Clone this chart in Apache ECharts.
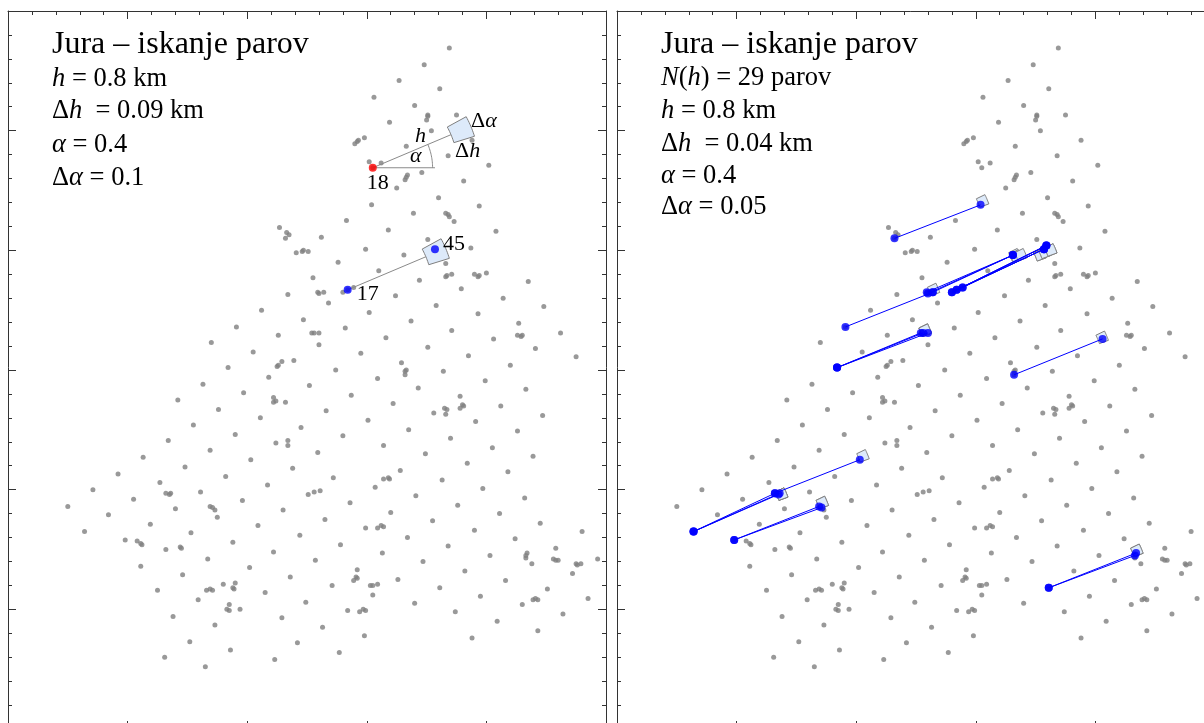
<!DOCTYPE html>
<html><head><meta charset="utf-8">
<script src="https://cdn.jsdelivr.net/npm/echarts@6/dist/echarts.min.js"></script>
<style>html,body{margin:0;padding:0;background:#fff;}#c{width:1204px;height:723px;}</style>
</head><body><div id="c"></div>
<script>
// Jura sample locations (km)
const sampleX = [
3.69,3.48,3.27,3.61,3.06,3.40,3.51,3.51,3.50,3.19,
3.75,3.54,3.88,2.90,2.92,2.93,2.98,3.33,3.68,4.02,
3.02,3.12,3.05,3.46,3.34,3.33,3.32,3.81,3.25,3.60,
3.04,3.94,3.66,3.68,3.69,3.39,3.73,2.83,3.18,4.08,
2.62,2.99,3.51,3.57,3.59,3.87,2.27,2.33,2.35,2.32,
2.41,2.46,2.47,2.51,2.34,2.12,2.47,1.91,2.26,1.70,
2.05,2.39,2.25,2.26,2.29,1.84,2.18,2.52,1.63,1.97,
1.42,2.22,2.22,2.24,2.32,1.76,2.11,1.55,2.45,1.90,
1.34,2.24,2.34,2.34,1.69,1.13,2.03,1.48,2.38,
0.92,1.82,1.27,2.17,0.71,0.50,1.32,1.35,1.36,1.61,
1.05,0.84,1.40,1.69,1.71,1.73,1.96,2.51,1.75,2.30,
1.19,0.64,1.53,2.09,2.44,0.98,1.08,1.11,1.12,1.32,
1.44,1.45,1.88,2.22,1.67,1.11,2.02,1.46,2.36,1.80,
1.90,1.88,1.89,1.25,1.66,1.69,1.71,2.15,1.59,2.49,
1.85,1.83,1.85,1.94,1.38,2.29,1.73,1.52,2.42,1.86,
1.31,2.23,1.65,3.31,3.66,2.76,3.10,3.66,3.67,3.71,
3.90,3.93,3.94,4.00,4.35,2.55,3.44,2.84,2.89,2.80,
2.59,2.60,2.64,2.68,3.24,3.79,4.14,3.58,4.48,3.02,
3.93,3.37,4.27,2.54,2.56,2.60,2.82,3.71,4.62,4.26,
4.29,4.30,3.16,4.06,2.60,3.51,4.41,2.95,3.85,4.75,
4.20,3.29,3.33,3.32,3.32,2.74,3.64,3.09,3.99,3.43,
4.33,2.87,3.78,3.22,3.80,3.81,3.78,4.12,2.66,3.56,
3.65,3.67,3.66,4.47,3.01,3.91,3.35,4.26,2.80,3.70,
3.14,4.05,2.59,3.49,4.39,3.84,3.28,4.18,2.72,3.14,
3.18,3.19,3.63,3.07,3.97,2.56,2.61,4.32,3.41,2.86,
3.76,3.20,4.11,4.45,2.65,3.55,2.99,3.09,3.12,3.14,
3.90,4.80,3.34,4.24,2.78,3.68,4.58,3.13,4.03,4.34,
4.33,4.33,4.56,4.58,4.60,4.93,2.57,3.47,4.38,4.75,
4.76,4.79,2.92,3.82,4.72,2.91,2.92,2.89,3.26,4.16,
2.71,3.03,3.05,3.09,3.61,4.51,3.05,3.95,4.85,3.40,
4.30,4.39,4.41,4.43,2.84,2.94,2.97,2.99,3.74,4.64,
2.63,4.09,4.43,2.98,3.88,2.77
];
const sampleY = [
5.69,5.55,5.42,5.35,5.28,5.21,5.13,5.12,5.09,5.07,
5.13,5.00,4.92,4.89,4.91,4.92,4.94,4.87,4.79,4.71,
4.74,4.73,4.69,4.65,4.63,4.61,4.59,4.58,4.52,4.44,
4.38,4.37,4.31,4.30,4.28,4.31,4.24,4.25,4.17,4.16,
4.11,4.01,4.09,4.01,4.04,4.02,4.19,4.15,4.13,4.10,
3.98,3.99,4.00,3.99,3.63,3.50,3.42,3.36,3.29,3.23,
3.15,3.08,3.03,3.04,3.07,3.02,2.94,2.87,2.88,2.81,
2.75,2.77,2.73,2.74,2.73,2.67,2.60,2.54,2.52,2.46,
2.41,2.39,2.41,2.37,2.33,2.27,2.25,2.19,2.18,
2.13,2.11,2.06,2.04,2.00,1.86,1.97,1.96,1.97,1.98,
1.92,1.79,1.84,1.86,1.85,1.83,1.91,1.96,1.77,1.83,
1.71,1.65,1.64,1.70,1.62,1.58,1.57,1.55,1.54,1.50,
1.52,1.51,1.56,1.48,1.42,1.36,1.35,1.29,1.27,1.21,
1.22,1.18,1.17,1.16,1.16,1.17,1.16,1.14,1.08,1.06,
1.04,1.00,0.99,1.00,0.94,0.93,0.87,0.73,0.72,0.66,
0.60,0.58,0.52,3.96,3.89,3.90,3.83,3.78,3.79,3.80,
3.80,3.78,3.79,3.81,3.74,3.77,3.75,3.67,3.69,3.65,
3.65,3.64,3.65,3.56,3.62,3.68,3.60,3.54,3.53,3.48,
3.47,3.41,3.39,3.31,3.31,3.31,3.35,3.33,3.31,3.29,
3.28,3.29,3.27,3.26,3.21,3.19,3.18,3.14,3.12,3.11,
3.04,3.06,3.00,2.99,2.96,3.00,2.99,2.93,2.91,2.85,
2.84,2.79,2.78,2.72,2.71,2.70,2.68,2.70,2.66,2.64,
2.68,2.67,2.63,2.62,2.58,2.57,2.50,2.49,2.45,2.43,
2.37,2.35,2.31,2.30,2.28,2.22,2.16,2.15,2.10,2.09,
2.10,2.09,2.08,2.02,2.01,1.98,1.99,1.93,1.95,1.89,
1.87,1.81,1.80,1.72,1.75,1.74,1.68,1.68,1.70,1.69,
1.66,1.65,1.60,1.59,1.54,1.53,1.51,1.47,1.45,1.47,
1.45,1.43,1.42,1.41,1.41,1.42,1.41,1.40,1.38,1.38,
1.37,1.38,1.33,1.32,1.30,1.27,1.26,1.24,1.25,1.24,
1.20,1.20,1.20,1.21,1.18,1.17,1.12,1.11,1.09,1.05,
1.04,1.08,1.09,1.08,0.99,0.98,1.00,0.99,0.98,0.96,
0.85,0.90,0.82,0.78,0.76,0.64
];

// search parameters
const lagH = 0.8, lagAlpha = 0.4;
const leftDh = 0.09, leftDa = 0.1;
const rightDh = 0.04, rightDa = 0.05;

// left panel: example tails / head
const exTailX = [3.05, 2.84];
const exTailY = [4.69, 3.67];
const exTailLabel = ['18', '17'];
const exHeadX = [3.57];
const exHeadY = [4.01];
const exHeadLabel = ['45'];

// right panel: found pairs (tail -> head)
const pairTailX = [2.32,1.91,2.59,2.60,2.64,2.80,2.80,2.84,2.84,2.89,2.89,1.84,1.84,1.84,3.32,3.61,3.61,0.64,0.64,0.64,1.32,0.98,0.98];
const pairTailY = [4.10,3.36,3.65,3.64,3.65,3.65,3.65,3.67,3.67,3.69,3.69,3.02,3.02,3.02,2.96,1.18,1.18,1.65,1.65,1.65,1.97,1.58,1.58];
const pairHeadX = [3.04,2.64,3.31,3.31,3.31,3.57,3.59,3.57,3.59,3.57,3.59,2.54,2.56,2.60,4.06,4.34,4.33,1.32,1.35,1.36,2.03,1.69,1.71];
const pairHeadY = [4.38,3.65,3.96,3.96,3.96,4.01,4.04,4.01,4.04,4.01,4.04,3.31,3.31,3.31,3.26,1.47,1.45,1.97,1.96,1.97,2.25,1.86,1.85];

const points = sampleX.map((x, i) => [x, sampleY[i]]);
const FONT = '"Liberation Serif", "Times New Roman", serif';

function sectorRender(dh, da) {
  return function (params, api) {
    const x0 = api.value(0), y0 = api.value(1);
    const pts = [];
    const n = 10;
    for (let i = 0; i <= n; i++) {
      const a = lagAlpha - da + 2 * da * i / n;
      pts.push(api.coord([x0 + (lagH + dh) * Math.cos(a), y0 + (lagH + dh) * Math.sin(a)]));
    }
    for (let i = n; i >= 0; i--) {
      const a = lagAlpha - da + 2 * da * i / n;
      pts.push(api.coord([x0 + (lagH - dh) * Math.cos(a), y0 + (lagH - dh) * Math.sin(a)]));
    }
    return { type: 'polygon', shape: { points: pts }, style: { fill: '#ddeafa', stroke: '#7f7f7f', lineWidth: 1 } };
  };
}

function axisDef(gridIndex, pos, max) {
  return {
    type: 'value', gridIndex: gridIndex, position: pos, min: 0, max: max, interval: 1,
    axisLine: { show: true, onZero: false, lineStyle: { color: '#333', width: 1 } },
    axisTick: { show: true, inside: true, length: 8, lineStyle: { color: '#333', width: 1 } },
    minorTick: { show: true, splitNumber: 5, length: 4, lineStyle: { color: '#333', width: 1 } },
    axisLabel: { show: false }, splitLine: { show: false }, minorSplitLine: { show: false }
  };
}

function txt(x, baseline, fs, text) {
  return {
    type: 'text', x: x, y: baseline - 0.3375 * fs, silent: true, z: 100,
    style: {
      text: text, fontSize: fs, fontFamily: FONT, fill: '#000', align: 'left', verticalAlign: 'middle',
      rich: { i: { fontSize: fs, fontFamily: FONT, fontStyle: 'italic', fill: '#000' } }
    }
  };
}

const chart = echarts.init(document.getElementById('c'), null, { renderer: 'canvas', width: 1204, height: 723 });

const option = {
  animation: false,
  backgroundColor: '#fff',
  grid: [
    { left: 8, top: 11, width: 598, height: 718, containLabel: false, outerBoundsMode: 'none' },
    { left: 617, top: 11, width: 598, height: 718, containLabel: false, outerBoundsMode: 'none' }
  ],
  xAxis: [axisDef(0, 'bottom', 5), axisDef(0, 'top', 5), axisDef(1, 'bottom', 5), axisDef(1, 'top', 5)],
  yAxis: [axisDef(0, 'left', 6), axisDef(0, 'right', 6), axisDef(1, 'left', 6), axisDef(1, 'right', 6)],
  series: [
    // left panel
    { type: 'scatter', xAxisIndex: 0, yAxisIndex: 0, data: points, symbolSize: 5, itemStyle: { color: '#808080' }, silent: true, z: 2 },
    { type: 'custom', xAxisIndex: 0, yAxisIndex: 0, silent: true, z: 4,
      data: exTailX.map((x, i) => [x, exTailY[i]]),
      renderItem: function (params, api) {
        const x0 = api.value(0), y0 = api.value(1);
        const r = lagH - leftDh;
        return { type: 'polyline', shape: { points: [api.coord([x0, y0]), api.coord([x0 + r * Math.cos(lagAlpha), y0 + r * Math.sin(lagAlpha)])] },
          style: { stroke: '#8a8a8a', lineWidth: 1, fill: 'none' } };
      } },
    { type: 'custom', xAxisIndex: 0, yAxisIndex: 0, silent: true, z: 4,
      data: [[exTailX[0], exTailY[0]]],
      renderItem: function (params, api) {
        const x0 = api.value(0), y0 = api.value(1);
        const arcPts = [];
        for (let i = 0; i <= 16; i++) {
          const a = lagAlpha * i / 16;
          arcPts.push(api.coord([x0 + 0.5 * Math.cos(a), y0 + 0.5 * Math.sin(a)]));
        }
        return { type: 'group', children: [
          { type: 'polyline', shape: { points: [api.coord([x0, y0]), api.coord([x0 + 0.52, y0])] }, style: { stroke: '#8a8a8a', lineWidth: 1, fill: 'none' } },
          { type: 'polyline', shape: { points: arcPts }, style: { stroke: '#8a8a8a', lineWidth: 1, fill: 'none' } }
        ] };
      } },
    { type: 'custom', xAxisIndex: 0, yAxisIndex: 0, silent: true, z: 5,
      data: exTailX.map((x, i) => [x, exTailY[i]]), renderItem: sectorRender(leftDh, leftDa) },
    { type: 'scatter', xAxisIndex: 0, yAxisIndex: 0, silent: true, z: 6, symbolSize: 8,
      data: [[exTailX[0], exTailY[0]]], itemStyle: { color: '#ff0000' } },
    { type: 'scatter', xAxisIndex: 0, yAxisIndex: 0, silent: true, z: 6, symbolSize: 8,
      data: [[exTailX[1], exTailY[1]]].concat(exHeadX.map((x, i) => [x, exHeadY[i]])), itemStyle: { color: '#0000ff' } },
    // right panel
    { type: 'scatter', xAxisIndex: 2, yAxisIndex: 2, data: points, symbolSize: 5, itemStyle: { color: '#808080' }, silent: true, z: 2 },
    { type: 'custom', xAxisIndex: 2, yAxisIndex: 2, silent: true, z: 3,
      data: pairTailX.map((x, i) => [x, pairTailY[i]]), renderItem: sectorRender(rightDh, rightDa) },
    { type: 'custom', xAxisIndex: 2, yAxisIndex: 2, silent: true, z: 4,
      data: pairTailX.map((x, i) => [x, pairTailY[i], pairHeadX[i], pairHeadY[i]]),
      encode: { x: [0, 2], y: [1, 3] },
      renderItem: function (params, api) {
        return { type: 'polyline', shape: { points: [api.coord([api.value(0), api.value(1)]), api.coord([api.value(2), api.value(3)])] },
          style: { stroke: '#0000ff', lineWidth: 1, fill: 'none' } };
      } },
    { type: 'scatter', xAxisIndex: 2, yAxisIndex: 2, silent: true, z: 6, symbolSize: 8, itemStyle: { color: '#0000ff' },
      data: pairTailX.map((x, i) => [x, pairTailY[i]]).concat(pairHeadX.map((x, i) => [x, pairHeadY[i]])) }
  ],
  graphic: [
    txt(52, 55, 32, 'Jura – iskanje parov'),
    txt(52, 88, 26.5, '{i|h} = 0.8 km'),
    txt(52, 120, 26.5, 'Δ{i|h}  = 0.09 km'),
    txt(52, 154, 26.5, '{i|α} = 0.4'),
    txt(52, 187, 26.5, 'Δ{i|α} = 0.1'),
    txt(471, 129, 22, 'Δ{i|α}'),
    txt(455, 159, 22, 'Δ{i|h}'),
    txt(415, 144, 22, '{i|h}'),
    txt(410, 164, 22, '{i|α}'),
    txt(661, 55, 32, 'Jura – iskanje parov'),
    txt(661, 87, 26.5, '{i|N}({i|h}) = 29 parov'),
    txt(661, 120, 26.5, '{i|h} = 0.8 km'),
    txt(661, 153, 26.5, 'Δ{i|h}  = 0.04 km'),
    txt(661, 185, 26.5, '{i|α} = 0.4'),
    txt(661, 216, 26.5, 'Δ{i|α} = 0.05')
  ]
};
chart.setOption(option);

// point labels placed next to their data points
const p18 = chart.convertToPixel({ gridIndex: 0 }, [exTailX[0], exTailY[0]]);
const p17 = chart.convertToPixel({ gridIndex: 0 }, [exTailX[1], exTailY[1]]);
const p45 = chart.convertToPixel({ gridIndex: 0 }, [exHeadX[0], exHeadY[0]]);
const extra = option.graphic.slice();
extra.push(txt(p18[0] - 6, p18[1] + 23, 22, exTailLabel[0]));
extra.push(txt(p17[0] + 9, p17[1] + 12, 22, exTailLabel[1]));
extra.push(txt(p45[0] + 8, p45[1] + 3, 22, exHeadLabel[0]));
chart.setOption({ graphic: extra });
</script>
</body></html>
